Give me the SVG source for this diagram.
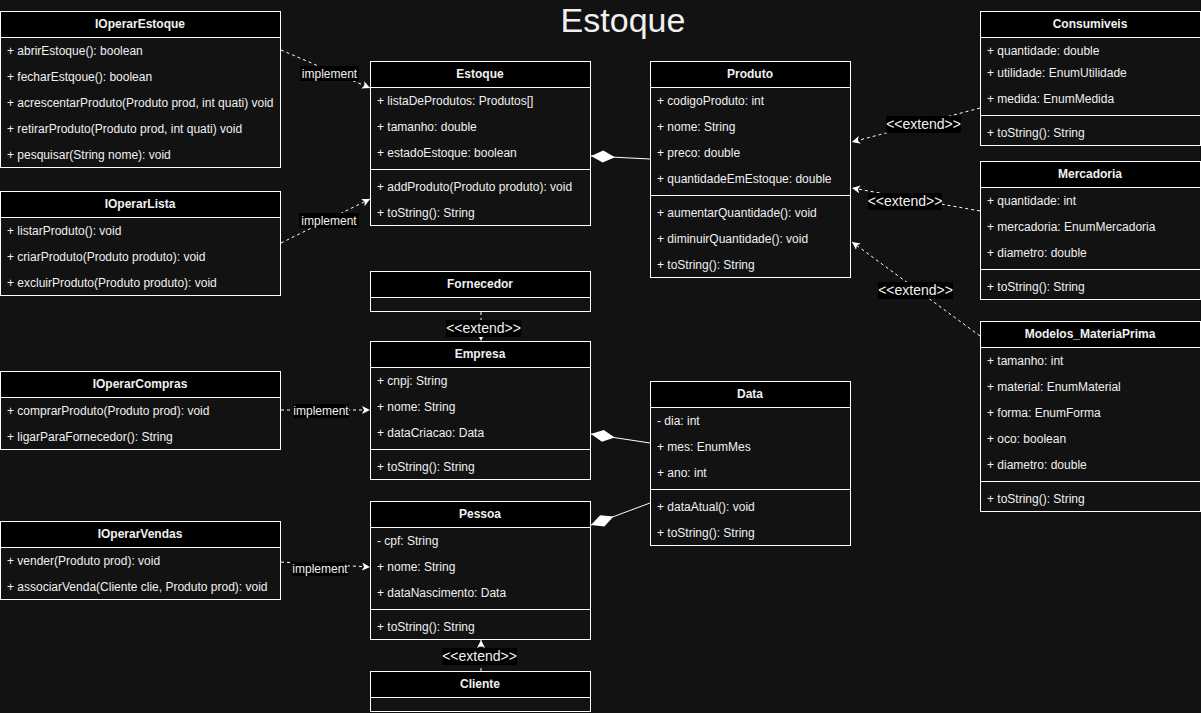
<svg xmlns="http://www.w3.org/2000/svg" width="1201" height="713" viewBox="0 0 1201 713">
<style>
text{font-family:"Liberation Sans",Arial,Helvetica,sans-serif;fill:#f0f0f0}
.body{fill:#121212;stroke:#ffffff;stroke-width:1}
.head{fill:#000000;stroke:#ffffff;stroke-width:1}
.sep{stroke:#ffffff;stroke-width:1}
.t{font-size:12px;font-weight:bold;text-anchor:middle}
.r{font-size:12px}
.c{fill:none;stroke:#ffffff;stroke-width:1;stroke-dasharray:3 3}
.s{fill:none;stroke:#ffffff;stroke-width:1}
.lb{fill:#000000}
.li{font-size:12px;text-anchor:middle}
.le{font-size:14px;text-anchor:middle}
</style>
<defs>
<marker id="arr" markerUnits="userSpaceOnUse" markerWidth="10" markerHeight="10" refX="8" refY="4" orient="auto"><path d="M0,0 L8,4 L0,8 L2,4 Z" fill="#ffffff" stroke="none"/></marker>
<marker id="dia" markerUnits="userSpaceOnUse" markerWidth="26" markerHeight="14" refX="24" refY="7" orient="auto"><path d="M0,7 L12,1 L24,7 L12,13 Z" fill="#ffffff" stroke="none"/></marker>
</defs>
<rect x="0" y="0" width="1201" height="713" fill="#121212"/>
<text x="623" y="32" style="font-size:34px;text-anchor:middle">Estoque</text>

<g id="IOperarEstoque">
<rect class="body" x="0.5" y="11.5" width="280" height="156"/>
<rect class="head" x="0.5" y="11.5" width="280" height="26"/>
<text class="t" x="140" y="28">IOperarEstoque</text>
<text class="r" x="7" y="55">+ abrirEstoque(): boolean</text>
<text class="r" x="7" y="81">+ fecharEstqoue(): boolean</text>
<text class="r" x="7" y="107">+ acrescentarProduto(Produto prod, int quati) void</text>
<text class="r" x="7" y="133">+ retirarProduto(Produto prod, int quati) void</text>
<text class="r" x="7" y="159">+ pesquisar(String nome): void</text>
</g>

<g id="IOperarLista">
<rect class="body" x="0.5" y="191.5" width="280" height="104"/>
<rect class="head" x="0.5" y="191.5" width="280" height="26"/>
<text class="t" x="140" y="208">IOperarLista</text>
<text class="r" x="7" y="235">+ listarProduto(): void</text>
<text class="r" x="7" y="261">+ criarProduto(Produto produto): void</text>
<text class="r" x="7" y="287">+ excluirProduto(Produto produto): void</text>
</g>

<g id="IOperarCompras">
<rect class="body" x="0.5" y="371.5" width="280" height="78"/>
<rect class="head" x="0.5" y="371.5" width="280" height="26"/>
<text class="t" x="140" y="388">IOperarCompras</text>
<text class="r" x="7" y="415">+ comprarProduto(Produto prod): void</text>
<text class="r" x="7" y="441">+ ligarParaFornecedor(): String</text>
</g>

<g id="IOperarVendas">
<rect class="body" x="0.5" y="521.5" width="280" height="78"/>
<rect class="head" x="0.5" y="521.5" width="280" height="26"/>
<text class="t" x="140" y="538">IOperarVendas</text>
<text class="r" x="7" y="565">+ vender(Produto prod): void</text>
<text class="r" x="7" y="591">+ associarVenda(Cliente clie, Produto prod): void</text>
</g>

<g id="Estoque">
<rect class="body" x="370.5" y="61.5" width="220" height="164"/>
<rect class="head" x="370.5" y="61.5" width="220" height="26"/>
<text class="t" x="480" y="78">Estoque</text>
<text class="r" x="377" y="105">+ listaDeProdutos: Produtos[]</text>
<text class="r" x="377" y="131">+ tamanho: double</text>
<text class="r" x="377" y="157">+ estadoEstoque: boolean</text>
<line class="sep" x1="370.5" y1="169.5" x2="590.5" y2="169.5"/>
<text class="r" x="377" y="191">+ addProduto(Produto produto): void</text>
<text class="r" x="377" y="217">+ toString(): String</text>
</g>

<g id="Produto">
<rect class="body" x="650.5" y="61.5" width="200" height="216"/>
<rect class="head" x="650.5" y="61.5" width="200" height="26"/>
<text class="t" x="750" y="78">Produto</text>
<text class="r" x="657" y="105">+ codigoProduto: int</text>
<text class="r" x="657" y="131">+ nome: String</text>
<text class="r" x="657" y="157">+ preco: double</text>
<text class="r" x="657" y="183">+ quantidadeEmEstoque: double</text>
<line class="sep" x1="650.5" y1="195.5" x2="850.5" y2="195.5"/>
<text class="r" x="657" y="217">+ aumentarQuantidade(): void</text>
<text class="r" x="657" y="243">+ diminuirQuantidade(): void</text>
<text class="r" x="657" y="269">+ toString(): String</text>
</g>

<g id="Consumiveis">
<rect class="body" x="980.5" y="11.5" width="220" height="134"/>
<rect class="head" x="980.5" y="11.5" width="220" height="26"/>
<text class="t" x="1090" y="28">Consumiveis</text>
<text class="r" x="987" y="55">+ quantidade: double</text>
<text class="r" x="987" y="77">+ utilidade: EnumUtilidade</text>
<text class="r" x="987" y="103">+ medida: EnumMedida</text>
<line class="sep" x1="980.5" y1="115.5" x2="1200.5" y2="115.5"/>
<text class="r" x="987" y="137">+ toString(): String</text>
</g>

<g id="Mercadoria">
<rect class="body" x="980.5" y="161.5" width="220" height="138"/>
<rect class="head" x="980.5" y="161.5" width="220" height="26"/>
<text class="t" x="1090" y="178">Mercadoria</text>
<text class="r" x="987" y="205">+ quantidade: int</text>
<text class="r" x="987" y="231">+ mercadoria: EnumMercadoria</text>
<text class="r" x="987" y="257">+ diametro: double</text>
<line class="sep" x1="980.5" y1="269.5" x2="1200.5" y2="269.5"/>
<text class="r" x="987" y="291">+ toString(): String</text>
</g>

<g id="Modelos_MateriaPrima">
<rect class="body" x="980.5" y="321.5" width="220" height="190"/>
<rect class="head" x="980.5" y="321.5" width="220" height="26"/>
<text class="t" x="1090" y="338">Modelos_MateriaPrima</text>
<text class="r" x="987" y="365">+ tamanho: int</text>
<text class="r" x="987" y="391">+ material: EnumMaterial</text>
<text class="r" x="987" y="417">+ forma: EnumForma</text>
<text class="r" x="987" y="443">+ oco: boolean</text>
<text class="r" x="987" y="469">+ diametro: double</text>
<line class="sep" x1="980.5" y1="481.5" x2="1200.5" y2="481.5"/>
<text class="r" x="987" y="503">+ toString(): String</text>
</g>

<g id="Fornecedor">
<rect class="body" x="370.5" y="271.5" width="220" height="40"/>
<rect class="head" x="370.5" y="271.5" width="220" height="26"/>
<text class="t" x="480" y="288">Fornecedor</text>
</g>

<g id="Empresa">
<rect class="body" x="370.5" y="341.5" width="220" height="138"/>
<rect class="head" x="370.5" y="341.5" width="220" height="26"/>
<text class="t" x="480" y="358">Empresa</text>
<text class="r" x="377" y="385">+ cnpj: String</text>
<text class="r" x="377" y="411">+ nome: String</text>
<text class="r" x="377" y="437">+ dataCriacao: Data</text>
<line class="sep" x1="370.5" y1="449.5" x2="590.5" y2="449.5"/>
<text class="r" x="377" y="471">+ toString(): String</text>
</g>

<g id="Pessoa">
<rect class="body" x="370.5" y="501.5" width="220" height="138"/>
<rect class="head" x="370.5" y="501.5" width="220" height="26"/>
<text class="t" x="480" y="518">Pessoa</text>
<text class="r" x="377" y="545">- cpf: String</text>
<text class="r" x="377" y="571">+ nome: String</text>
<text class="r" x="377" y="597">+ dataNascimento: Data</text>
<line class="sep" x1="370.5" y1="609.5" x2="590.5" y2="609.5"/>
<text class="r" x="377" y="631">+ toString(): String</text>
</g>

<g id="Cliente">
<rect class="body" x="370.5" y="671.5" width="220" height="40"/>
<rect class="head" x="370.5" y="671.5" width="220" height="26"/>
<text class="t" x="480" y="688">Cliente</text>
</g>

<g id="Data">
<rect class="body" x="650.5" y="381.5" width="200" height="164"/>
<rect class="head" x="650.5" y="381.5" width="200" height="26"/>
<text class="t" x="750" y="398">Data</text>
<text class="r" x="657" y="425">- dia: int</text>
<text class="r" x="657" y="451">+ mes: EnumMes</text>
<text class="r" x="657" y="477">+ ano: int</text>
<line class="sep" x1="650.5" y1="489.5" x2="850.5" y2="489.5"/>
<text class="r" x="657" y="511">+ dataAtual(): void</text>
<text class="r" x="657" y="537">+ toString(): String</text>
</g>

<g id="connectors">
<path class="c" d="M281,50 L370,88" marker-end="url(#arr)"/>
<path class="c" d="M281,243 L370,199" marker-end="url(#arr)"/>
<path class="s" d="M650,159 L591,156" marker-end="url(#dia)"/>
<path class="c" d="M980,108 L852,142" marker-end="url(#arr)"/>
<path class="c" d="M980,211 L852,188" marker-end="url(#arr)"/>
<path class="c" d="M980,336 L852,242" marker-end="url(#arr)"/>
<path class="c" d="M481,312 L481,341" marker-end="url(#arr)"/>
<path class="c" d="M281,410 L370,410" marker-end="url(#arr)"/>
<path class="s" d="M650,443 L591,434" marker-end="url(#dia)"/>
<path class="s" d="M650,503 L591,525" marker-end="url(#dia)"/>
<path class="c" d="M281,562 L370,567" marker-end="url(#arr)"/>
<path class="c" d="M481,671 L481,640" marker-end="url(#arr)"/>

<rect class="lb" x="300" y="66" width="59" height="15"/>
<text class="li" x="329.5" y="78">implement</text>
<rect class="lb" x="299" y="213" width="60" height="15"/>
<text class="li" x="329" y="225">implement</text>
<rect class="lb" x="886" y="116" width="75" height="17"/>
<text class="le" x="923.5" y="129">&lt;&lt;extend&gt;&gt;</text>
<rect class="lb" x="868" y="193" width="74" height="17"/>
<text class="le" x="905" y="206">&lt;&lt;extend&gt;&gt;</text>
<rect class="lb" x="878" y="282" width="75" height="17"/>
<text class="le" x="915.5" y="295">&lt;&lt;extend&gt;&gt;</text>
<rect class="lb" x="446" y="320" width="75" height="17"/>
<text class="le" x="483.5" y="333">&lt;&lt;extend&gt;&gt;</text>
<rect class="lb" x="293" y="404" width="56" height="14"/>
<text class="li" x="321" y="415">implement</text>
<rect class="lb" x="292" y="562" width="56" height="14"/>
<text class="li" x="320" y="573">implement</text>
<rect class="lb" x="442" y="648" width="75" height="17"/>
<text class="le" x="479.5" y="661">&lt;&lt;extend&gt;&gt;</text>
</g>
</svg>
